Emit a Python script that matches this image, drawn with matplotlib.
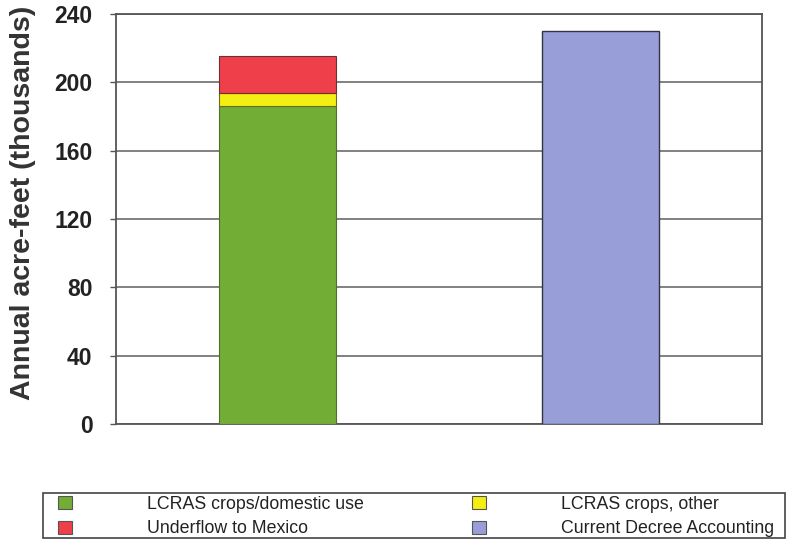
import matplotlib
matplotlib.use("Agg")
import matplotlib.pyplot as plt
from matplotlib.patches import Patch, Rectangle

# values in thousand acre-feet
positions = [0, 1]
lcras_domestic = [186, 0]
lcras_other = [8, 0]
underflow_mexico = [21.5, 0]
decree_accounting = [0, 230]

y_ticks = [0, 40, 80, 120, 160, 200, 240]

GREEN = "#72ad36"
YELLOW = "#f4ee12"
RED = "#ef3f4b"
LAVENDER = "#989ed8"

plt.rcParams["font.family"] = ["Liberation Sans", "DejaVu Sans"]

W, H = 791, 540
fig = plt.figure(figsize=(W / 100, H / 100), dpi=100)
ax = fig.add_axes([116 / W, 1 - 424 / H, 646 / W, 410 / H])

w = 0.36
b1 = lcras_domestic
b2 = [a + b for a, b in zip(lcras_domestic, lcras_other)]
ax.bar(positions[:1], lcras_domestic[:1], w, color=GREEN, edgecolor="#4f6f2a", lw=0.8, zorder=3)
ax.bar(positions[:1], lcras_other[:1], w, bottom=b1[:1], color=YELLOW, edgecolor="#6b6a20", lw=0.8, zorder=3)
ax.bar(positions[:1], underflow_mexico[:1], w, bottom=b2[:1], color=RED, edgecolor="#6b3035", lw=0.8, zorder=3)
ax.bar(positions[1:], decree_accounting[1:], w, color=LAVENDER, edgecolor="#333344", lw=1.0, zorder=3)

ax.set_xlim(-0.5, 1.5)
ax.set_ylim(0, 240)
ax.set_yticks(y_ticks)
ax.set_yticklabels([str(t) for t in y_ticks], fontsize=16.5, fontweight="bold", color="#222222")
ax.set_xticks([])
ax.tick_params(axis="y", length=4, width=1, color="#555555", pad=13)
ax.yaxis.grid(True, color="#777777", lw=1.3, zorder=0)
for s in ax.spines.values():
    s.set_color("#555555")
    s.set_linewidth(1.3)
ax.set_ylabel("Annual acre-feet (thousands)", fontsize=20.5, fontweight="bold", color="#333333")
ax.yaxis.set_label_coords((36 - 116) / 646, (424 - 203) / 410)

# legend: frame drawn separately so the entries can sit where the scan has them
fig.add_artist(Rectangle((43 / W, 1 - 538 / H), 742 / W, 45 / H, transform=fig.transFigure,
                         fill=False, edgecolor="#444444", lw=1.2))
handles = [
    Patch(facecolor=GREEN, edgecolor="#555555", lw=0.8),
    Patch(facecolor=RED, edgecolor="#555555", lw=0.8),
    Patch(facecolor=YELLOW, edgecolor="#555555", lw=0.8),
    Patch(facecolor=LAVENDER, edgecolor="#555555", lw=0.8),
]
labels = ["LCRAS crops/domestic use", "Underflow to Mexico",
          "LCRAS crops, other", "Current Decree Accounting"]
leg = fig.legend(handles, labels, ncol=2, loc="upper left",
                 bbox_to_anchor=(58 / W, 1 - 496 / H),
                 borderaxespad=0, borderpad=0, frameon=False,
                 handlelength=0.8, handleheight=0.75,
                 handletextpad=4.2, labelspacing=0.42, columnspacing=6.1,
                 prop={"size": 12.8})
for t in leg.get_texts():
    t.set_color("#222222")

fig.savefig("out.png", dpi=100)
